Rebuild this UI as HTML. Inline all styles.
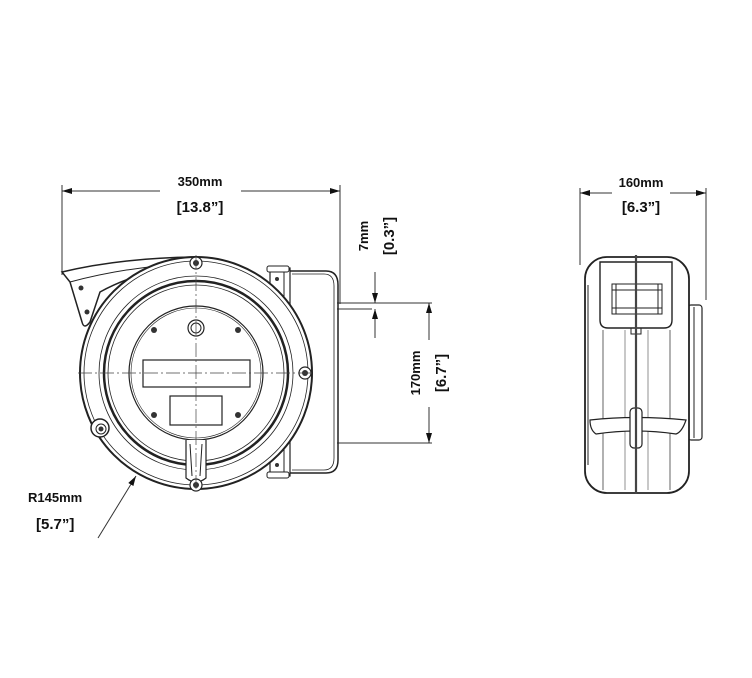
<!DOCTYPE html>
<html><head><meta charset="utf-8"><style>
html,body{margin:0;padding:0;background:#fff;}
svg{display:block;}
text{font-family:"Liberation Sans",sans-serif;fill:#111;font-weight:bold;}
</style></head><body>
<svg width="752" height="678" viewBox="0 0 752 678" xmlns="http://www.w3.org/2000/svg">
<defs>
<marker id="ar" viewBox="0 0 10 6" refX="10" refY="3" markerWidth="10" markerHeight="6" orient="auto-start-reverse" markerUnits="userSpaceOnUse"><path d="M0,0 L10,3 L0,6 z" fill="#111"/></marker>
</defs>
<g stroke="#333" fill="none" stroke-width="1">
<line x1="62" y1="185" x2="62" y2="275"/>
<line x1="340" y1="185" x2="340" y2="304"/>
<line x1="62" y1="191" x2="160" y2="191" marker-start="url(#ar)"/>
<line x1="241" y1="191" x2="340" y2="191" marker-end="url(#ar)"/>
<line x1="337" y1="303" x2="432" y2="303"/>
<line x1="337" y1="309" x2="372" y2="309"/>
<line x1="337" y1="443" x2="432" y2="443"/>
<line x1="375" y1="272" x2="375" y2="303" marker-end="url(#ar)"/>
<line x1="375" y1="338" x2="375" y2="309" marker-end="url(#ar)"/>
<line x1="429" y1="340" x2="429" y2="303" marker-end="url(#ar)"/>
<line x1="429" y1="407" x2="429" y2="443" marker-end="url(#ar)"/>
<line x1="98" y1="538" x2="136" y2="476" marker-end="url(#ar)"/>
<line x1="580" y1="188" x2="580" y2="265"/>
<line x1="706" y1="188" x2="706" y2="300"/>
<line x1="580" y1="193" x2="612" y2="193" marker-start="url(#ar)"/>
<line x1="670" y1="193" x2="706" y2="193" marker-end="url(#ar)"/>
</g>

<g stroke="#222" fill="none">
<path d="M290,271 H326 Q338,271 338,285 V460 Q338,473 326,473 H290" stroke-width="1.5"/>
<path d="M292,274 H324 Q334,274 334,286 V458 Q334,470 324,470 H292" stroke-width="0.8"/>
<rect x="270" y="268" width="20" height="208" stroke-width="1.2" fill="#fff"/>
<line x1="284" y1="270" x2="284" y2="474"/>
<rect x="267" y="266" width="22" height="6" rx="2" fill="#fff"/>
<rect x="267" y="472" width="22" height="6" rx="2" fill="#fff"/>
<path d="M62,272 Q120,258 195,257 L200,262 Q140,270 100,292 L90,322 Q84,330 82,322 L70,282 Z" fill="#fff" stroke-width="1.5"/>
<path d="M70,282 Q130,266 190,264"/>
<circle cx="196" cy="373" r="116" fill="#fff" stroke-width="2"/>
<circle cx="196" cy="373" r="112" stroke-width="0.8"/>
<circle cx="196" cy="373" r="97" stroke-width="0.8"/>
<circle cx="196" cy="373" r="92" stroke-width="2.5"/>
<circle cx="196" cy="373" r="88" stroke-width="0.8"/>
<circle cx="196" cy="373" r="67" stroke-width="1.2"/>
<circle cx="196" cy="373" r="65" stroke-width="0.6"/>
<rect x="143" y="360" width="107" height="27" stroke-width="1.2"/>
<rect x="170" y="396" width="52" height="29" stroke-width="1.2"/>
<circle cx="196" cy="328" r="8" stroke-width="1.2"/>
<circle cx="196" cy="328" r="5" stroke-width="1"/>
<path d="M186,440 L186,478 Q196,486 206,478 L206,440" fill="#fff" stroke-width="1.2"/>
<path d="M190,444 L192,476 M202,444 L200,476"/>
<circle cx="196" cy="263" r="6" fill="#fff" stroke-width="1.2"/>
<circle cx="305" cy="373" r="6" fill="#fff" stroke-width="1.2"/>
<circle cx="196" cy="485" r="6" fill="#fff" stroke-width="1.2"/>
<circle cx="100" cy="428" r="9" fill="#fff" stroke-width="1.5"/>
<circle cx="101" cy="429" r="5" stroke-width="1"/>
</g>
<g fill="#333">
<circle cx="154" cy="330" r="3"/><circle cx="238" cy="330" r="3"/>
<circle cx="154" cy="415" r="3"/><circle cx="238" cy="415" r="3"/>
<circle cx="196" cy="263" r="3"/><circle cx="305" cy="373" r="3"/><circle cx="196" cy="485" r="3"/>
<circle cx="101" cy="429" r="2.5"/>
<circle cx="81" cy="288" r="2.5"/><circle cx="87" cy="312" r="2.5"/>
<circle cx="277" cy="279" r="2"/><circle cx="277" cy="465" r="2"/>
</g>
<g stroke="#444" stroke-width="0.7" stroke-dasharray="14,3,2,3">
<line x1="196" y1="255" x2="196" y2="490"/>
<line x1="78" y1="373" x2="315" y2="373"/>
</g>

<g stroke="#222" fill="none">
<rect x="688" y="305" width="14" height="135" rx="3" stroke-width="1.2" fill="#fff"/>
<line x1="694" y1="307" x2="694" y2="438"/>
<rect x="585" y="257" width="104" height="236" rx="22" stroke-width="1.8" fill="#fff"/>
<line x1="588" y1="285" x2="588" y2="465"/>
<line x1="603" y1="330" x2="603" y2="490" stroke-width="0.7"/>
<line x1="670" y1="330" x2="670" y2="490" stroke-width="0.7"/>
<line x1="625" y1="330" x2="625" y2="490" stroke-width="0.5"/>
<line x1="648" y1="330" x2="648" y2="490" stroke-width="0.5"/>
<path d="M600,262 H672 V320 Q672,328 664,328 H608 Q600,328 600,320 Z" stroke-width="1.4" fill="#fff"/>
<rect x="612" y="284" width="50" height="30" stroke-width="1"/>
<line x1="612" y1="290" x2="662" y2="290"/><line x1="612" y1="308" x2="662" y2="308"/>
<line x1="616" y1="284" x2="616" y2="314"/><line x1="658" y1="284" x2="658" y2="314"/>
<rect x="631" y="328" width="10" height="6"/>
<path d="M590,420 Q636,415 686,420 Q682,432 676,434 Q636,428 596,434 Q590,430 590,420 Z" fill="#fff" stroke-width="1.2"/>
<rect x="630" y="408" width="12" height="40" rx="4" fill="#fff" stroke-width="1.2"/>
</g>
<line x1="636" y1="255" x2="636" y2="494" stroke="#444" stroke-width="2.2"/>

<text x="200" y="186" font-size="13" text-anchor="middle">350mm</text>
<text x="200" y="212" font-size="15" text-anchor="middle">[13.8”]</text>
<text x="641" y="187" font-size="13" text-anchor="middle">160mm</text>
<text x="641" y="212" font-size="15" text-anchor="middle">[6.3”]</text>
<text x="28" y="502" font-size="13">R145mm</text>
<text x="36" y="529" font-size="15">[5.7”]</text>
<text transform="translate(368,236) rotate(-90)" font-size="13" text-anchor="middle">7mm</text>
<text transform="translate(394,236) rotate(-90)" font-size="15" text-anchor="middle">[0.3”]</text>
<text transform="translate(420,373) rotate(-90)" font-size="13" text-anchor="middle">170mm</text>
<text transform="translate(446,373) rotate(-90)" font-size="15" text-anchor="middle">[6.7”]</text>
</svg>
</body></html>
